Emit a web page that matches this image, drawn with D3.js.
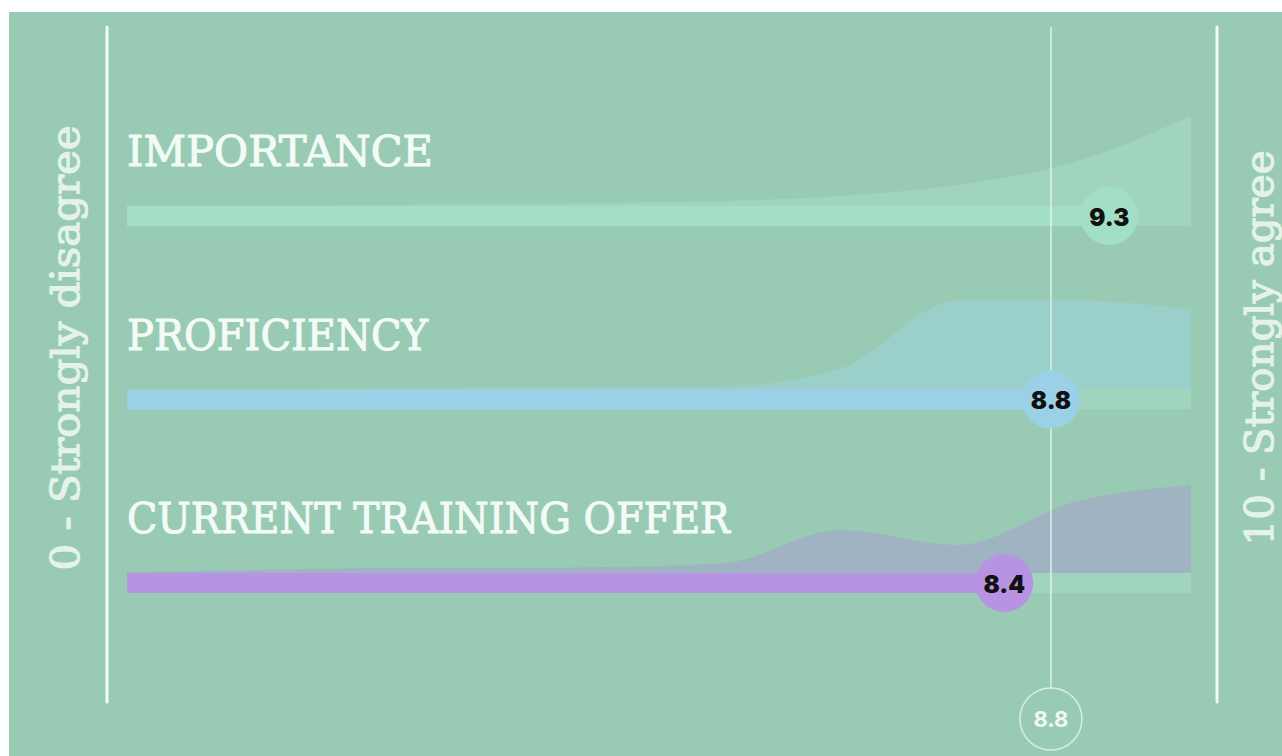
<!DOCTYPE html>
<html>
<head>
<meta charset="utf-8">
<script src="https://cdn.jsdelivr.net/npm/d3@7"></script>
<style>
    body { margin: 0; background: #fff; }
    svg { display: block; }
</style>
</head>
<body>
<div class="chart-container"></div>
<script>
//Data
const categories = ['IMPORTANCE', 'PROFICIENCY', 'CURRENT TRAINING OFFER'];
const averages = [9.3, 8.8, 8.4];
const overallAverage = 8.8;
//score 0..10, share of answers (%) per score -> background distribution
const scorePoints = [0, 1, 2, 3, 4, 5, 6, 7, 8, 9, 10];
const importanceShares = [0, 0, 0, 0.4, 0.8, 1.2, 2, 4, 8.4, 17.6, 36];
const proficiencyShares = [0, 0, 0, 0.4, 0.6, 0.8, 1.2, 8.4, 35.6, 35.6, 32];
const trainingShares = [0, 0.4, 1.2, 2, 2, 2.4, 4, 17.2, 11.2, 28.4, 35.2];
const scaleLabels = ['0 - Strongly disagree', '10 - Strongly agree'];

//Styles
const barColors = ['#a3dec7', '#9bd1e6', '#b893e3'];
const areaColors = ['#a0d4be', '#9bcfca', '#a0b3c3'];
const bgColor = '#99cbb4';
const titleWidths = [306, 301, 603];

const svg_width = 1282;
const svg_height = 756;
const plotLeft = 127;
const barHeight = 20;

const svg = d3.select('.chart-container').append('svg')
    .attr('width', svg_width).attr('height', svg_height);

// green panel (white strip on top / left like the original image)
svg.append('rect')
    .attr('x', 9).attr('y', 12)
    .attr('width', svg_width - 9).attr('height', svg_height - 12)
    .style('fill', bgColor);

//Scales
const xScale = d3.scaleLinear([0, 10], [24, 1191]);
const yScale = d3.scalePoint().domain(categories).range([216, 583]);
const shareScale = d3.scaleLinear([0, 40], [0, 100]);

svg.append('clipPath').attr('id', 'plot-clip')
    .append('rect')
    .attr('x', plotLeft).attr('y', 0)
    .attr('width', xScale(10) - plotLeft).attr('height', svg_height);

//Distribution areas
const sharesList = [importanceShares, proficiencyShares, trainingShares];
const areas = svg.append('g').attr('class', 'areas').attr('clip-path', 'url(#plot-clip)');
categories.forEach((c, k) => {
    const base = yScale(c) - barHeight / 2;
    const area = d3.area()
        .x((d, i) => xScale(scorePoints[i]))
        .y0(base)
        .y1(d => base - shareScale(d))
        .curve(d3.curveMonotoneX);
    areas.append('path')
        .attr('d', area(sharesList[k]))
        .style('fill', areaColors[k]);
});

//Tracks + bars
const rows = svg.append('g').attr('class', 'rows');
rows.selectAll('.track').data(categories).join('rect')
    .attr('class', 'track')
    .attr('x', plotLeft).attr('y', d => yScale(d) - barHeight / 2)
    .attr('width', xScale(10) - plotLeft).attr('height', barHeight)
    .style('fill', '#a0d4bc');

rows.selectAll('.bar').data(categories).join('rect')
    .attr('class', 'bar')
    .attr('x', plotLeft).attr('y', d => yScale(d) - barHeight / 2)
    .attr('width', (d, i) => xScale(averages[i]) - plotLeft)
    .attr('height', barHeight)
    .style('fill', (d, i) => barColors[i]);

//Overall average line
const avgX = xScale(overallAverage);
const avgCy = 719;
const avgR = 31;
svg.append('line')
    .attr('x1', avgX).attr('x2', avgX)
    .attr('y1', 27).attr('y2', avgCy - avgR)
    .style('stroke', '#eaf8f1').style('stroke-width', 1.5).style('opacity', 0.85);
svg.append('circle')
    .attr('cx', avgX).attr('cy', avgCy).attr('r', avgR)
    .style('fill', 'none').style('stroke', '#e3f5ec').style('stroke-width', 1.5)
    .style('opacity', 0.85);
svg.append('text')
    .attr('x', avgX).attr('y', avgCy)
    .attr('text-anchor', 'middle').attr('dominant-baseline', 'central')
    .style('font-family', 'Inter, sans-serif').style('font-weight', 700)
    .style('font-size', '22px').style('fill', '#eefaf4')
    .text(overallAverage.toFixed(1));

//Value circles
const dots = svg.append('g').attr('class', 'dots');
dots.selectAll('circle').data(categories).join('circle')
    .attr('cx', (d, i) => xScale(averages[i]))
    .attr('cy', d => yScale(d))
    .attr('r', 29)
    .style('fill', (d, i) => barColors[i]);
dots.selectAll('text').data(categories).join('text')
    .attr('x', (d, i) => xScale(averages[i]))
    .attr('y', d => yScale(d) + 1)
    .attr('text-anchor', 'middle').attr('dominant-baseline', 'central')
    .style('font-family', 'Inter, sans-serif').style('font-weight', 900)
    .style('font-size', '24px').style('fill', '#111')
    .text((d, i) => averages[i].toFixed(1));

//Row titles (regular + thin stroke ~ medium slab weight)
svg.append('g').attr('class', 'titles')
    .selectAll('text').data(categories).join('text')
    .attr('x', plotLeft).attr('y', d => yScale(d) - 50)
    .attr('textLength', (d, i) => titleWidths[i])
    .attr('lengthAdjust', 'spacingAndGlyphs')
    .style('font-family', '"DejaVu Serif", serif')
    .style('font-size', '43px').style('fill', '#f3fbf7')
    .style('stroke', '#f3fbf7').style('stroke-width', 1)
    .text(d => d);

//Side rules
[107, 1217].forEach(x => {
    svg.append('line')
        .attr('x1', x).attr('x2', x).attr('y1', 27).attr('y2', 702)
        .style('stroke', '#f0fbf6').style('stroke-width', 3)
        .style('stroke-linecap', 'round');
});

//Side labels (rotated)
const sideLabels = [
    { text: scaleLabels[0], x: 79, len: 445 },
    { text: scaleLabels[1], x: 1273, len: 395 }
];
svg.append('g').attr('class', 'side-labels')
    .selectAll('text').data(sideLabels).join('text')
    .attr('transform', d => `translate(${d.x},348) rotate(-90)`)
    .attr('text-anchor', 'middle')
    .attr('textLength', d => d.len)
    .attr('lengthAdjust', 'spacingAndGlyphs')
    .style('font-family', '"DejaVu Serif", serif')
    .style('font-size', '40px').style('fill', '#e3f3ec')
    .style('stroke', '#e3f3ec').style('stroke-width', 1.2)
    .text(d => d.text);
</script>
</body>
</html>
